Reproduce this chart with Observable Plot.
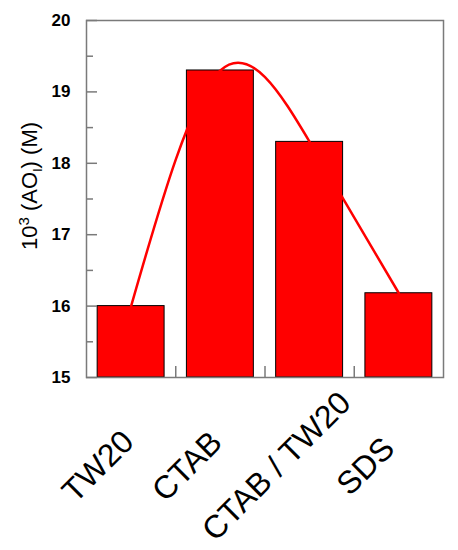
<!DOCTYPE html>
<html>
<head>
<meta charset="utf-8">
<script src="https://cdn.jsdelivr.net/npm/d3@7"></script>
<script src="https://cdn.jsdelivr.net/npm/@observablehq/plot@0.6"></script>
<style>
  html, body { margin: 0; padding: 0; background: #fff; }
  #chart svg { display: block; }
</style>
</head>
<body>
<div id="chart"></div>
<script>
const categories = ["TW20", "CTAB", "CTAB / TW20", "SDS"];
const values = [16.0, 19.3, 18.3, 16.18];
const yMajorTicks = [15, 16, 17, 18, 19, 20];
const yMinorTicks = [15.5, 16.5, 17.5, 18.5, 19.5];
const yBase = 15;

const data = categories.map((c, i) => ({ name: c, i, value: values[i] }));
const boundaries = categories.slice(1).map((_, i) => i + 0.5);
const barHalf = 0.375;

const W = 458, H = 550;
const mL = 86, mR = 15, mT = 20, mB = 173;
const plotW = W - mL - mR, plotH = H - mT - mB;
const xDomain = [-0.5, categories.length - 0.5];
const yDomain = [15, 20];
const pxPerX = plotW / (xDomain[1] - xDomain[0]);
const pxPerY = plotH / (yDomain[1] - yDomain[0]);
const gray = "#7a7a7a";

const chart = Plot.plot({
  width: W,
  height: H,
  marginLeft: mL,
  marginRight: mR,
  marginTop: mT,
  marginBottom: mB,
  style: { fontFamily: "'Liberation Sans', Arial, sans-serif", background: "#fff" },
  x: { type: "linear", domain: xDomain, axis: null },
  y: { domain: yDomain, axis: null },
  marks: [
    Plot.rectY(data, {
      x1: d => d.i - barHalf,
      x2: d => d.i + barHalf,
      y1: () => yBase,
      y2: "value",
      fill: "#ff0000",
      stroke: "#000",
      strokeWidth: 1
    }),
    Plot.line(data, {
      x: "i",
      y: "value",
      curve: "natural",
      stroke: "#ff0000",
      strokeWidth: 2.5
    }),
    // inward y ticks (major and minor)
    Plot.ruleY(yMajorTicks, { y: d => d, x1: xDomain[0], x2: xDomain[0] + 11 / pxPerX, stroke: gray, strokeWidth: 1.5 }),
    Plot.ruleY(yMinorTicks, { y: d => d, x1: xDomain[0], x2: xDomain[0] + 7 / pxPerX, stroke: gray, strokeWidth: 1.5 }),
    // inward x ticks at category boundaries
    Plot.ruleX(boundaries, { x: d => d, y1: yDomain[0], y2: yDomain[0] + 11 / pxPerY, stroke: gray, strokeWidth: 1.5 }),
    Plot.axisY({
      ticks: yMajorTicks, tickSize: 0, tickPadding: 16, label: null,
      tickFormat: d => String(d),
      fontSize: 17, fontWeight: "bold", fill: "#000"
    }),
    Plot.text(data, {
      x: "i",
      text: "name",
      frameAnchor: "bottom",
      dy: 89,
      dx: -33,
      rotate: -45,
      textAnchor: "middle",
      lineAnchor: "middle",
      fontSize: 32,
      fill: "#000"
    }),
    Plot.frame({ stroke: gray, strokeWidth: 1.5 })
  ]
});

document.getElementById("chart").appendChild(chart);

// y-axis label with superscript and subscript
const svg = d3.select(chart);
const lab = svg.append("text")
  .attr("transform", "translate(37,186) rotate(-90)")
  .attr("text-anchor", "middle")
  .attr("font-family", "'Liberation Sans', Arial, sans-serif")
  .attr("font-size", 22)
  .attr("fill", "#000");
lab.append("tspan").text("10");
lab.append("tspan").attr("dy", -8).attr("font-size", 15).text("3");
lab.append("tspan").attr("dy", 8).text(" (AO");
lab.append("tspan").attr("dy", 5).attr("font-size", 13).text("I");
lab.append("tspan").attr("dy", -5).text(") (M)");
</script>
</body>
</html>
